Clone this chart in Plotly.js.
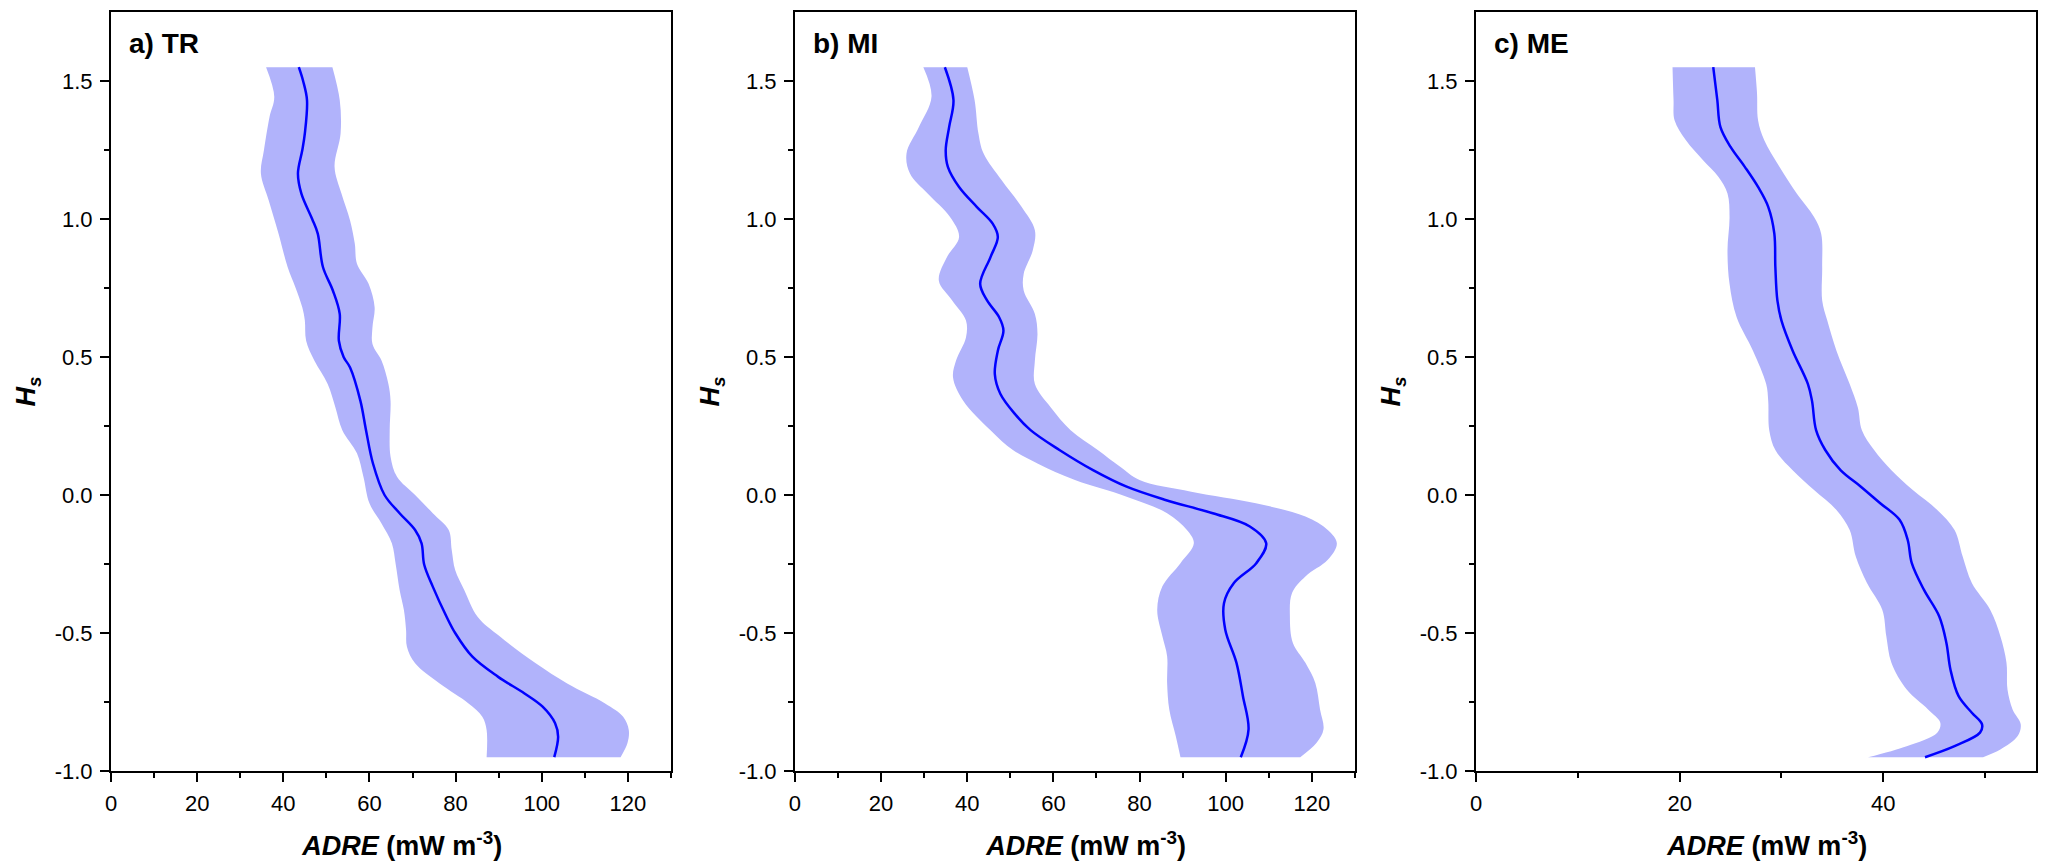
<!DOCTYPE html>
<html>
<head>
<meta charset="utf-8">
<script src="https://cdn.plot.ly/plotly-3.0.1.min.js"></script>
<style>html,body{margin:0;padding:0;background:#fff;}#chart{width:2046px;height:865px;}</style>
</head>
<body>
<div id="chart"></div>
<script>
// ---------- data ----------
const panelLabels = ["a) TR", "b) MI", "c) ME"];

// a) TR
const trMeanHs = [1.55,1.50,1.431,1.310,1.249,1.165,1.092,1.0,0.947,0.826,0.741,0.656,0.559,0.5,0.462,0.341,0.235,0.115,0.0,-0.066,-0.127,-0.175,-0.252,-0.332,-0.441,-0.5,-0.586,-0.658,-0.719,-0.767,-0.827,-0.876,-0.95];
const trMean   = [43.6,44.6,45.5,45.0,44.4,43.4,44.2,46.7,48.0,49.2,51.5,53.1,52.9,54.0,55.5,57.9,59.2,60.8,63.5,67.0,70.6,72.1,72.7,74.7,77.9,79.9,83.9,89.8,96.0,100.2,103.1,103.8,102.9];
const trLowHs  = [1.55,1.443,1.370,1.249,1.165,1.068,0.947,0.826,0.753,0.680,0.632,0.559,0.487,0.402,0.317,0.235,0.151,0.066,-0.030,-0.103,-0.175,-0.252,-0.344,-0.417,-0.489,-0.550,-0.610,-0.683,-0.755,-0.803,-0.851,-0.95];
const trLow    = [36.0,37.9,36.8,35.5,34.8,36.6,38.9,41.0,42.8,44.4,45.0,45.3,47.2,50.3,52.1,53.7,57.1,58.6,60.0,62.8,65.2,66.1,67.0,68.0,68.5,68.7,70.6,76.3,83.0,86.2,87.2,87.2];
const trUpHs   = [1.55,1.431,1.310,1.189,1.092,0.995,0.910,0.838,0.765,0.680,0.608,0.547,0.487,0.402,0.341,0.235,0.139,0.066,0.0,-0.066,-0.127,-0.199,-0.272,-0.344,-0.441,-0.513,-0.610,-0.683,-0.755,-0.803,-0.851,-0.899,-0.95];
const trUp     = [51.4,53.1,53.3,51.9,53.5,55.5,56.6,57.1,59.8,61.2,60.7,60.7,62.8,64.4,64.9,64.7,64.9,66.4,70.6,74.7,78.4,79.1,79.9,82.0,85.1,90.3,98.6,105.9,114.7,118.9,120.2,119.9,118.3];

// b) MI
const miMeanHs = [1.55,1.431,1.334,1.249,1.189,1.116,1.044,0.983,0.935,0.862,0.765,0.705,0.644,0.596,0.523,0.438,0.366,0.293,0.235,0.163,0.090,0.030,-0.018,-0.066,-0.114,-0.175,-0.247,-0.319,-0.392,-0.488,-0.608,-0.729,-0.849,-0.95];
const miMean   = [34.8,36.8,35.8,35.0,35.5,38.1,42.2,45.9,47.1,45.4,43.0,44.6,47.4,48.4,47.1,46.4,47.7,51.1,54.7,61.4,69.2,77.0,86.0,97.0,105.6,109.4,107.1,101.9,99.6,99.9,102.5,104.0,105.3,103.5];
const miLowHs  = [1.55,1.443,1.334,1.237,1.165,1.092,1.007,0.935,0.862,0.777,0.705,0.632,0.571,0.487,0.426,0.341,0.235,0.163,0.114,0.054,-0.006,-0.066,-0.127,-0.175,-0.247,-0.331,-0.416,-0.512,-0.584,-0.681,-0.777,-0.873,-0.95];
const miLow    = [29.8,31.7,28.8,25.9,26.7,30.8,36.0,38.1,35.3,33.4,36.5,39.7,39.7,37.4,36.7,39.1,45.4,50.6,56.3,65.0,77.0,86.4,91.0,92.6,89.5,85.3,84.1,85.3,86.4,86.4,86.9,88.4,89.5];
const miUpHs   = [1.55,1.431,1.310,1.237,1.140,1.044,0.959,0.886,0.801,0.741,0.656,0.584,0.487,0.402,0.317,0.235,0.163,0.102,0.054,0.012,-0.030,-0.078,-0.127,-0.175,-0.235,-0.295,-0.355,-0.440,-0.536,-0.608,-0.681,-0.777,-0.849,-0.898,-0.95];
const miUp     = [40.0,41.7,42.6,43.8,48.0,52.6,55.7,55.2,53.1,53.1,55.7,56.3,55.7,55.7,59.4,64.0,70.3,75.5,80.0,92.0,107.0,118.5,123.7,125.8,123.7,118.5,115.4,114.9,115.6,118.5,120.8,121.9,122.7,121.1,117.3];

// c) ME
const meMeanHs = [1.55,1.431,1.334,1.261,1.189,1.116,1.044,0.947,0.826,0.705,0.632,0.523,0.402,0.341,0.235,0.163,0.090,0.030,-0.030,-0.090,-0.163,-0.247,-0.344,-0.440,-0.536,-0.633,-0.729,-0.789,-0.831,-0.861,-0.910,-0.95];
const meMean   = [23.3,23.7,24.0,25.0,26.4,27.7,28.7,29.3,29.4,29.6,30.0,31.1,32.6,33.0,33.4,34.3,35.8,37.8,39.7,41.6,42.4,42.8,44.0,45.5,46.2,46.6,47.4,48.7,49.7,49.5,47.0,44.1];
const meLowHs  = [1.55,1.431,1.358,1.286,1.213,1.153,1.092,1.007,0.886,0.765,0.644,0.523,0.402,0.341,0.235,0.163,0.090,0.018,-0.054,-0.127,-0.223,-0.319,-0.416,-0.512,-0.608,-0.705,-0.777,-0.825,-0.861,-0.910,-0.95];
const meLow    = [19.3,19.4,19.5,20.6,22.3,23.8,24.7,24.9,24.7,24.9,25.6,27.2,28.5,28.7,28.8,29.4,31.1,33.2,35.4,36.7,37.3,38.4,39.9,40.3,40.8,42.3,44.4,45.6,45.3,42.3,38.5];
const meUpHs   = [1.55,1.455,1.358,1.286,1.189,1.092,1.007,0.947,0.826,0.705,0.632,0.523,0.402,0.317,0.235,0.163,0.090,0.018,-0.054,-0.127,-0.223,-0.319,-0.416,-0.512,-0.608,-0.705,-0.777,-0.831,-0.873,-0.922,-0.95];
const meUp     = [27.4,27.6,27.7,28.3,29.8,31.5,33.2,33.9,34.0,34.0,34.5,35.4,36.7,37.5,37.9,39.1,40.8,42.9,45.3,47.0,47.8,48.7,50.5,51.5,52.1,52.2,52.7,53.5,53.2,51.5,49.8];

// axis ticks
const xTicksWide   = [0,20,40,60,80,100,120];
const xMinorWide   = [10,30,50,70,90,110,130];
const xTicksNarrow = [0,20,40];
const xMinorNarrow = [10,30,50];
const yTickVals  = [-1.0,-0.5,0.0,0.5,1.0,1.5];
const yTickText  = ["-1.0","-0.5","0.0","0.5","1.0","1.5"];
const yMinorVals = [-0.75,-0.25,0.25,0.75,1.25];

// ---------- styling ----------
const FONT = "Liberation Sans, Arial, Helvetica, sans-serif";
const bandColor = "rgb(177,179,251)";
const lineColor = "rgb(0,0,255)";

const panels = [
  {lowHs: trLowHs, low: trLow, upHs: trUpHs, up: trUp, meanHs: trMeanHs, mean: trMean, xr: [0,130], xt: xTicksWide, xm: xMinorWide, dom: [0, 0.2909]},
  {lowHs: miLowHs, low: miLow, upHs: miUpHs, up: miUp, meanHs: miMeanHs, mean: miMean, xr: [0,130], xt: xTicksWide, xm: xMinorWide, dom: [0.3553, 0.6462]},
  {lowHs: meLowHs, low: meLow, upHs: meUpHs, up: meUp, meanHs: meMeanHs, mean: meMean, xr: [0,55], xt: xTicksNarrow, xm: xMinorNarrow, dom: [0.7091, 1.0]}
];

const data = [];
const layout = {
  width: 2046, height: 865,
  margin: {l: 111, r: 10, t: 12, b: 94},
  paper_bgcolor: "#fff", plot_bgcolor: "#fff",
  showlegend: false,
  font: {family: FONT, color: "#000", size: 22},
  annotations: []
};

panels.forEach((p, i) => {
  const n = i === 0 ? "" : String(i + 1);
  const xa = "x" + n, ya = "y" + n;
  data.push({
    x: p.low, y: p.lowHs, xaxis: xa, yaxis: ya, type: "scatter", mode: "lines",
    line: {width: 0, shape: "spline", smoothing: 1, color: "rgba(0,0,0,0)"},
    hoverinfo: "skip"
  });
  data.push({
    x: p.up, y: p.upHs, xaxis: xa, yaxis: ya, type: "scatter", mode: "lines",
    fill: "tonextx", fillcolor: bandColor,
    line: {width: 0, shape: "spline", smoothing: 1, color: "rgba(0,0,0,0)"},
    hoverinfo: "skip"
  });
  data.push({
    x: p.mean, y: p.meanHs, xaxis: xa, yaxis: ya, type: "scatter", mode: "lines",
    line: {width: 2.5, shape: "spline", smoothing: 1, color: lineColor}
  });

  layout["xaxis" + n] = {
    domain: p.dom, anchor: ya, range: p.xr,
    tickmode: "array", tickvals: p.xt,
    ticks: "outside", ticklen: 9, tickwidth: 2, tickcolor: "#000",
    minor: {tickmode: "array", tickvals: p.xm, ticks: "outside", ticklen: 5, tickwidth: 2, tickcolor: "#000"},
    showline: true, linewidth: 2, linecolor: "#000", mirror: true,
    showgrid: false, zeroline: false,
    tickfont: {family: FONT, size: 22, color: "#000"},
    ticklabelstandoff: 3,
    title: {text: "&nbsp;&nbsp;&nbsp;<b><i>ADRE</i> (mW m<sup>-3</sup>)</b>", font: {family: FONT, size: 27, color: "#000"}, standoff: 21}
  };
  layout["yaxis" + n] = {
    domain: [0, 1], anchor: xa, range: [-1.0, 1.75],
    tickmode: "array", tickvals: yTickVals, ticktext: yTickText,
    ticks: "outside", ticklen: 9, tickwidth: 2, tickcolor: "#000",
    minor: {tickmode: "array", tickvals: yMinorVals, ticks: "outside", ticklen: 5, tickwidth: 2, tickcolor: "#000"},
    showline: true, linewidth: 2, linecolor: "#000", mirror: true,
    showgrid: false, zeroline: false,
    tickfont: {family: FONT, size: 22, color: "#000"},
    ticklabelstandoff: 3,
    title: {text: "<b><i>H<sub>s</sub></i></b>", font: {family: FONT, size: 27, color: "#000"}, standoff: 11}
  };
  layout.annotations.push({
    xref: xa + " domain", yref: ya + " domain", x: 0.028, y: 0.959,
    xanchor: "left", yanchor: "middle", showarrow: false,
    text: "<b>" + panelLabels[i] + "</b>",
    font: {family: FONT, size: 28, color: "#000"}
  });
});

Plotly.newPlot("chart", data, layout, {displayModeBar: false, staticPlot: true});
</script>
</body>
</html>
